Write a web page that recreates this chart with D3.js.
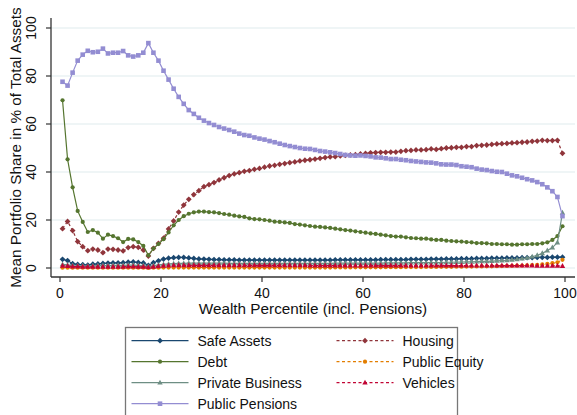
<html>
<head>
  <meta charset="utf-8">
  <style>
    body { margin: 0; background: white; }
    text { font-family: "Liberation Sans", Arial, sans-serif; fill: #111; }
  </style>
  <script src="https://cdn.jsdelivr.net/npm/d3@7/dist/d3.min.js"></script>
</head>
<body>
<div id="svgTarget"></div>
<script>
  // percentile positions (0.5 .. 99.5)
  var percentiles = d3.range(0.5, 100, 1);

  var xTicks = [0, 20, 40, 60, 80, 100];
  var yTicks = [0, 20, 40, 60, 80, 100];

  var safeAssets = [
    3.6, 3.1, 1.8, 1.5, 1.4, 1.2, 1.6, 1.7, 1.9, 2.0,
    2.1, 2.1, 2.2, 2.4, 2.5, 2.3, 2.1, 1.1, 2.2, 3.0,
    3.7, 4.1, 4.3, 4.4, 4.4, 4.2, 4.0, 3.8, 3.7, 3.6,
    3.5, 3.5, 3.4, 3.4, 3.4, 3.3, 3.3, 3.3, 3.3, 3.3,
    3.3, 3.3, 3.3, 3.3, 3.3, 3.3, 3.3, 3.3, 3.3, 3.3,
    3.3, 3.3, 3.3, 3.3, 3.4, 3.4, 3.4, 3.4, 3.4, 3.4,
    3.4, 3.4, 3.4, 3.5, 3.5, 3.5, 3.5, 3.5, 3.5, 3.6,
    3.6, 3.6, 3.6, 3.7, 3.7, 3.7, 3.8, 3.8, 3.8, 3.9,
    3.9, 3.9, 4.0, 4.0, 4.0, 4.1, 4.1, 4.1, 4.2, 4.2,
    4.2, 4.3, 4.3, 4.3, 4.4, 4.4, 4.4, 4.5, 4.5, 4.5
  ];

  var housing = [
    16.4, 19.4, 15.6, 11.0, 8.9, 7.2, 7.9, 7.5, 6.4, 7.9,
    7.8, 7.5, 7.1, 8.5, 8.9, 8.6, 7.5, 5.0, 8.2, 10.3,
    12.4, 16.3, 19.6, 23.3, 26.2, 28.6, 30.6, 32.2, 33.9, 34.7,
    35.6, 36.7, 37.6, 38.5, 39.2, 39.7, 40.3, 40.6, 41.1, 41.5,
    42.0, 42.5, 42.8, 43.2, 43.5, 43.9, 44.2, 44.6, 44.9, 45.1,
    45.4, 45.7, 46.0, 46.3, 46.4, 46.7, 46.9, 47.1, 47.2, 47.5,
    47.7, 48.0, 48.1, 48.2, 48.2, 48.3, 48.3, 48.6, 48.9, 49.0,
    49.2, 49.2, 49.3, 49.6, 49.4, 49.7, 50.0, 50.1, 50.3, 50.3,
    50.6, 50.6, 51.0, 51.1, 51.25, 51.5, 51.7, 51.8, 51.9, 52.1,
    52.2, 52.4, 52.5, 52.8, 52.9, 53.2, 53.1, 53.1, 53.2, 47.8
  ];

  var debt = [
    69.9, 45.3, 33.6, 23.8, 19.2, 15.0, 15.8, 14.7, 12.2, 13.9,
    13.3, 12.4, 10.8, 12.1, 11.9, 10.8, 9.2, 5.3, 8.1, 10.0,
    12.0, 14.8, 17.8, 20.0, 21.6, 22.6, 23.2, 23.5, 23.5, 23.3,
    23.2, 22.9, 22.5, 22.2, 21.8, 21.5, 21.3, 20.7, 20.4, 20.3,
    20.0, 19.7, 19.3, 19.2, 19.0, 18.8, 18.3, 18.1, 17.8, 17.5,
    17.2, 17.1, 16.9, 16.7, 16.4, 16.1, 15.8, 15.6, 15.3, 15.0,
    14.7, 14.4, 14.2, 13.9, 13.6, 13.3, 13.1, 13.1, 12.8, 12.5,
    12.4, 12.2, 12.2, 11.9, 11.7, 11.7, 11.4, 11.25, 11.1, 11.0,
    10.8, 10.7, 10.4, 10.4, 10.3, 10.0, 10.0, 9.9, 9.9, 9.7,
    9.7, 9.9, 9.9, 10.0, 10.0, 10.3, 10.7, 11.7, 13.3, 17.4
  ];

  var publicEquity = [
    0.1, 0.1, 0.1, 0.1, 0.1, 0.1, 0.1, 0.1, 0.1, 0.1,
    0.1, 0.1, 0.1, 0.1, 0.1, 0.1, 0.1, 0.05, 0.1, 0.15,
    0.2, 0.2, 0.2, 0.2, 0.2, 0.2, 0.2, 0.2, 0.2, 0.2,
    0.2, 0.2, 0.2, 0.2, 0.2, 0.2, 0.2, 0.2, 0.2, 0.2,
    0.2, 0.2, 0.2, 0.2, 0.2, 0.2, 0.2, 0.2, 0.2, 0.2,
    0.2, 0.2, 0.2, 0.2, 0.25, 0.25, 0.25, 0.25, 0.3, 0.3,
    0.3, 0.3, 0.3, 0.3, 0.35, 0.35, 0.35, 0.35, 0.4, 0.4,
    0.4, 0.4, 0.45, 0.45, 0.45, 0.5, 0.5, 0.5, 0.55, 0.55,
    0.6, 0.6, 0.65, 0.65, 0.7, 0.7, 0.75, 0.8, 0.85, 0.9,
    0.95, 1.0, 1.1, 1.2, 1.3, 1.5, 1.7, 2.0, 2.4, 3.4
  ];

  var privateBusiness = [
    1.5, 1.3, 1.0, 0.9, 0.9, 0.8, 0.9, 1.0, 1.0, 1.0,
    1.1, 1.1, 1.1, 1.2, 1.2, 1.1, 1.0, 0.6, 1.0, 1.3,
    1.5, 1.7, 1.8, 1.9, 1.9, 2.0, 2.0, 2.0, 2.0, 2.0,
    2.0, 2.0, 2.0, 1.9, 1.9, 1.9, 1.9, 1.9, 1.9, 1.9,
    1.9, 1.9, 1.9, 1.9, 1.9, 1.9, 1.9, 1.9, 1.9, 1.9,
    1.9, 1.9, 1.9, 1.9, 2.0, 2.0, 2.0, 2.0, 2.0, 2.0,
    2.0, 2.0, 2.0, 2.0, 2.1, 2.1, 2.1, 2.1, 2.1, 2.2,
    2.2, 2.2, 2.2, 2.3, 2.3, 2.3, 2.4, 2.4, 2.5, 2.5,
    2.6, 2.6, 2.7, 2.8, 2.8, 2.9, 3.0, 3.1, 3.2, 3.4,
    3.6, 3.9, 4.2, 4.7, 5.3, 6.1, 7.3, 8.5, 10.6, 23.0
  ];

  var vehicles = [
    0.9, 0.8, 0.6, 0.6, 0.5, 0.5, 0.5, 0.5, 0.5, 0.5,
    0.5, 0.5, 0.5, 0.6, 0.6, 0.5, 0.5, 0.3, 0.5, 0.7,
    0.9, 1.0, 1.1, 1.1, 1.1, 1.1, 1.1, 1.1, 1.1, 1.1,
    1.1, 1.1, 1.1, 1.1, 1.1, 1.1, 1.1, 1.1, 1.1, 1.1,
    1.1, 1.1, 1.1, 1.1, 1.1, 1.1, 1.1, 1.1, 1.1, 1.0,
    1.0, 1.0, 1.0, 1.0, 1.0, 1.0, 1.0, 1.0, 1.0, 1.0,
    1.0, 1.0, 1.0, 1.0, 1.0, 1.0, 1.0, 1.0, 1.0, 1.0,
    1.0, 1.0, 1.0, 1.0, 1.0, 1.0, 1.0, 1.0, 1.0, 1.0,
    1.0, 1.0, 1.0, 1.0, 1.0, 1.0, 1.0, 1.0, 1.0, 1.0,
    1.0, 1.0, 1.0, 1.0, 0.9, 0.9, 0.9, 0.9, 0.9, 0.8
  ];

  var publicPensions = [
    77.6, 76.0, 81.4, 86.4, 88.9, 90.5, 89.9, 90.1, 91.4, 89.4,
    89.7, 89.7, 90.4, 88.6, 88.1, 88.6, 89.7, 93.7, 89.7, 86.4,
    82.2, 78.5, 74.7, 71.3, 68.4, 65.8, 64.2, 62.6, 61.4, 60.4,
    59.6, 58.75, 58.1, 57.5, 56.8, 56.0, 55.4, 55.1, 54.4, 53.9,
    53.5, 52.9, 52.4, 51.8, 51.25, 50.8, 50.4, 50.0, 49.7, 49.6,
    49.2, 48.75, 48.5, 48.2, 47.9, 47.5, 47.1, 46.9, 46.8, 46.9,
    46.7, 46.5, 46.1, 46.0, 45.7, 45.4, 45.4, 45.1, 44.9, 44.6,
    44.4, 44.2, 44.0, 43.9, 43.6, 43.2, 43.1, 43.1, 42.9, 42.4,
    42.2, 42.0, 41.4, 41.0, 40.8, 40.4, 40.1, 40.0, 39.3, 38.6,
    38.2, 37.6, 37.0, 36.5, 35.8, 34.9, 33.6, 32.0, 29.6, 21.6
  ];

  var series = [
    { name: 'Safe Assets', values: safeAssets, color: '#1a476f', dash: null, marker: 'diamond', col: 0, row: 0 },
    { name: 'Housing', values: housing, color: '#90353b', dash: '3,2.5', marker: 'diamond', col: 1, row: 0 },
    { name: 'Debt', values: debt, color: '#55752f', dash: null, marker: 'circle', col: 0, row: 1 },
    { name: 'Public Equity', values: publicEquity, color: '#e37e00', dash: '3,2.5', marker: 'circle', col: 1, row: 1 },
    { name: 'Private Business', values: privateBusiness, color: '#6e8e84', dash: null, marker: 'triangle', col: 0, row: 2 },
    { name: 'Vehicles', values: vehicles, color: '#c10534', dash: '3,2.5', marker: 'triangle', col: 1, row: 2 },
    { name: 'Public Pensions', values: publicPensions, color: '#938dd2', dash: null, marker: 'square', col: 0, row: 3 }
  ];

  document.addEventListener('DOMContentLoaded', go);

  function markerPath(type) {
    if (type === 'diamond') return 'M0,-2.9L2.9,0L0,2.9L-2.9,0Z';
    if (type === 'square') return 'M-2.3,-2.3H2.3V2.3H-2.3Z';
    if (type === 'triangle') return 'M0,-3L2.7,1.9H-2.7Z';
    return d3.symbol().type(d3.symbolCircle).size(14)();
  }

  function go() {
    var svg = d3.select('#svgTarget')
        .append('svg')
        .attr('width', 577)
        .attr('height', 415);

    var x = d3.scaleLinear().domain([0, 100]).range([60, 565]);
    var y = d3.scaleLinear().domain([0, 100]).range([268, 28]);

    var left = 51, right = 575, top = 18, bottom = 277;

    // grid
    svg.selectAll('line.grid')
        .data(yTicks)
      .enter().append('line')
        .attr('class', 'grid')
        .attr('x1', left)
        .attr('x2', right)
        .attr('y1', function(d) { return y(d); })
        .attr('y2', function(d) { return y(d); })
        .style('stroke', '#eaf2f3')
        .style('stroke-width', 1.5);

    // axes
    svg.append('line')
        .attr('x1', left).attr('x2', left)
        .attr('y1', top).attr('y2', bottom)
        .style('stroke', '#333').style('stroke-width', 1.3);
    svg.append('line')
        .attr('x1', left).attr('x2', right)
        .attr('y1', bottom).attr('y2', bottom)
        .style('stroke', '#333').style('stroke-width', 1.3);

    svg.selectAll('line.ytick')
        .data(yTicks)
      .enter().append('line')
        .attr('x1', left - 5).attr('x2', left)
        .attr('y1', function(d) { return y(d); })
        .attr('y2', function(d) { return y(d); })
        .style('stroke', '#333').style('stroke-width', 1.2);

    svg.selectAll('text.ylab')
        .data(yTicks)
      .enter().append('text')
        .attr('transform', function(d) { return 'translate(35.5,' + y(d) + ') rotate(-90)'; })
        .attr('text-anchor', 'middle')
        .style('font-size', '14px')
        .text(function(d) { return d; });

    svg.selectAll('line.xtick')
        .data(xTicks)
      .enter().append('line')
        .attr('x1', function(d) { return x(d); })
        .attr('x2', function(d) { return x(d); })
        .attr('y1', bottom).attr('y2', bottom + 5)
        .style('stroke', '#333').style('stroke-width', 1.2);

    svg.selectAll('text.xlab')
        .data(xTicks)
      .enter().append('text')
        .attr('x', function(d) { return x(d); })
        .attr('y', 298)
        .attr('text-anchor', 'middle')
        .style('font-size', '14px')
        .text(function(d) { return d; });

    svg.append('text')
        .attr('x', (left + right) / 2)
        .attr('y', 313.5)
        .attr('text-anchor', 'middle')
        .style('font-size', '15.3px')
        .text('Wealth Percentile (incl. Pensions)');

    svg.append('text')
        .attr('transform', 'translate(21,' + (top + bottom) / 2 + ') rotate(-90)')
        .attr('text-anchor', 'middle')
        .style('font-size', '15.3px')
        .text('Mean Portfolio Share in % of Total Assets');

    // series
    var line = d3.line()
        .x(function(d) { return x(d[0]); })
        .y(function(d) { return y(d[1]); });

    series.forEach(function(s) {
      var pts = percentiles.map(function(p, i) { return [p, s.values[i]]; });
      var g = svg.append('g');
      g.append('path')
          .attr('d', line(pts))
          .style('fill', 'none')
          .style('stroke', s.color)
          .style('stroke-width', 1.2)
          .style('stroke-dasharray', s.dash);
      g.selectAll('path.mk')
          .data(pts)
        .enter().append('path')
          .attr('d', markerPath(s.marker))
          .attr('transform', function(d) { return 'translate(' + x(d[0]) + ',' + y(d[1]) + ')'; })
          .style('fill', s.color);
    });

    // legend
    var lg = svg.append('g');
    lg.append('rect')
        .attr('x', 125.5)
        .attr('y', 327.5)
        .attr('width', 332)
        .attr('height', 110)
        .style('fill', 'white')
        .style('stroke', '#777')
        .style('stroke-width', 1.3);

    var colX = [131.5, 336.5];
    series.forEach(function(s) {
      var cy = 340.7 + s.row * 21;
      var x0 = colX[s.col];
      lg.append('line')
          .attr('x1', x0).attr('x2', x0 + 57)
          .attr('y1', cy).attr('y2', cy)
          .style('stroke', s.color)
          .style('stroke-width', 1.2)
          .style('stroke-dasharray', s.dash);
      lg.append('path')
          .attr('d', markerPath(s.marker))
          .attr('transform', 'translate(' + (x0 + 28.5) + ',' + cy + ')')
          .style('fill', s.color);
      lg.append('text')
          .attr('x', x0 + 66)
          .attr('y', cy + 5)
          .style('font-size', '14px')
          .text(s.name);
    });
  }
</script>
</body>
</html>
